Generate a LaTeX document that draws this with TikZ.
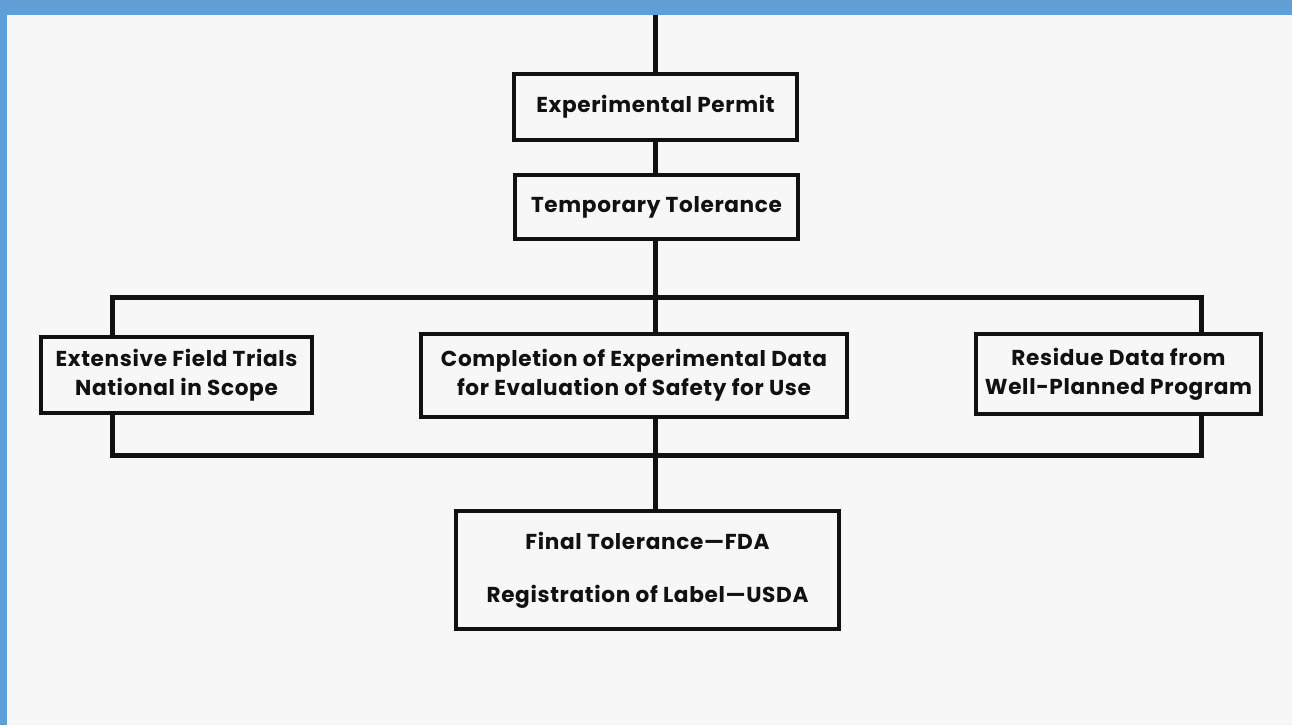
\documentclass[tikz,border=0pt]{standalone}
\usepackage{fontspec}
\setmainfont{Poppins}[LetterSpace=3]
\definecolor{paper}{RGB}{247,247,247}
\definecolor{frame}{RGB}{98,158,214}
\definecolor{ink}{RGB}{17,17,17}
\tikzset{
  box/.style={draw=ink, line width=0.09cm, fill=paper, align=center, inner sep=0pt,
    font=\fontsize{12.3}{16.5}\selectfont\bfseries, text=ink},
  wire/.style={draw=ink, line width=0.1cm}
}
\begin{document}
\begin{tikzpicture}[x=0.02cm, y=-0.02cm]
        % page and blue frame
        \useasboundingbox (0,0) rectangle (1292,725);
        \fill[paper] (0,0) rectangle (1292,725);
        \fill[frame] (0,0) rectangle (1292,15);
        \fill[frame] (0,0) rectangle (7,725);

        % boxes
        \node[box, minimum width=283*0.02cm, minimum height=66*0.02cm] (permit) at (655.5,107) {Experimental Permit};
        \node[box, minimum width=283*0.02cm, minimum height=64*0.02cm] (temp) at (656.5,207) {Temporary Tolerance};
        \node[box, minimum width=271*0.02cm, minimum height=76*0.02cm] (field) at (176.5,375) {Extensive Field Trials\\National in Scope};
        \node[box, minimum width=426*0.02cm, minimum height=83*0.02cm] (compl) at (634,375.5) {Completion of Experimental Data\\for Evaluation of Safety for Use};
        \node[box, minimum width=285*0.02cm, minimum height=80*0.02cm] (residue) at (1118.5,374) {Residue Data from\\Well-Planned Program};
        \node[box, minimum width=383*0.02cm, minimum height=118*0.02cm] (final) at (647.5,570) {\raisebox{3pt}{Final Tolerance---FDA}\\[10.5pt]Registration of Label---USDA};

        % free end and bus corners
        \coordinate (entry) at (655,15);
        \coordinate (splitL) at (112,297);
        \coordinate (splitR) at (1201,297);
        \coordinate (joinL) at (112,455);
        \coordinate (joinR) at (1201,455);

        % connectors
        \draw[wire] (entry) -- (permit.north -| entry);
        \draw[wire] (permit.south -| entry) -- (temp.north -| entry);
        \draw[wire] (temp.south -| entry) -- (compl.north -| entry);
        \draw[wire] (field.north -| splitL) -- (splitL) -- (splitR) -- (residue.north -| splitR);
        \draw[wire] (field.south -| joinL) -- (joinL) -- (joinR) -- (residue.south -| joinR);
        \draw[wire] (compl.south -| entry) -- (final.north -| entry);
    \end{tikzpicture}
\end{document}
